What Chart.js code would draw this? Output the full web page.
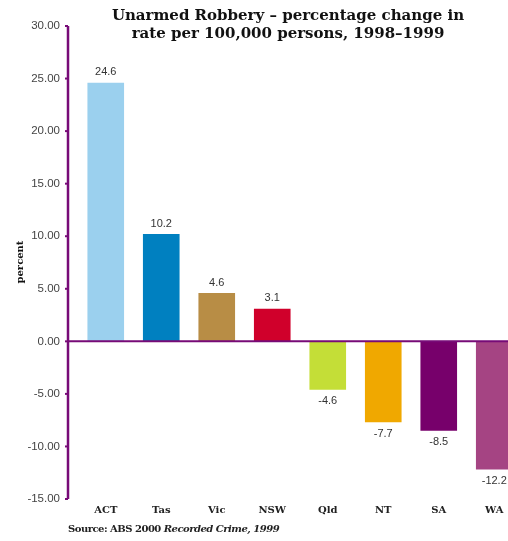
<!DOCTYPE html>
<html>
<head>
<meta charset="utf-8">
<script src="https://cdn.jsdelivr.net/npm/chart.js@4/dist/chart.umd.min.js"></script>
<style>
  html, body { margin: 0; padding: 0; background: #fff; overflow: hidden; }
  #wrap { position: relative; width: 508px; height: 541px; overflow: hidden; }
  #title {
    position: absolute; left: 68px; top: 6px; width: 440px;
    text-align: center; font: bold 15px "DejaVu Serif", serif; line-height: 18px; color: #111;
  }
  #source {
    position: absolute; left: 68px; top: 523px; letter-spacing: -0.5px;
    font: bold 10px "DejaVu Serif", serif; color: #222; white-space: nowrap;
  }
  canvas { position: absolute; left: 0; top: 0; }
</style>
</head>
<body>
<div id="wrap">
  <canvas id="robberyChart" width="522" height="541"></canvas>
  <div id="title">Unarmed Robbery – percentage change in<br>rate per 100,000 persons, 1998–1999</div>
  <div id="source">Source: ABS 2000 <i>Recorded Crime, 1999</i></div>
</div>
<script>
const states = ["ACT", "Tas", "Vic", "NSW", "Qld", "NT", "SA", "WA"];
const changes = [24.6, 10.2, 4.6, 3.1, -4.6, -7.7, -8.5, -12.2];
const barColors = ["#9bd0ee", "#0080c0", "#b88d45", "#d0002b", "#c4de37", "#f0a800", "#77006b", "#a54483"];
const axisTicks = [30, 25, 20, 15, 10, 5, 0, -5, -10, -15];

const AXIS = "#770b77";
const AXIS_X = 68;

// own y axis line, zero line, "percent" title and value labels
const decorations = {
    id: "decorations",
    afterDatasetsDraw(chart) {
        const ctx = chart.ctx;
        const y = chart.scales.y;
        const area = chart.chartArea;
        ctx.save();

        ctx.strokeStyle = AXIS;
        ctx.lineWidth = 2;
        const y0 = y.getPixelForValue(0);
        ctx.beginPath();
        ctx.moveTo(AXIS_X, y0);
        ctx.lineTo(area.right, y0);
        ctx.stroke();

        ctx.lineWidth = 2.5;
        ctx.beginPath();
        ctx.moveTo(AXIS_X, y.getPixelForValue(30));
        ctx.lineTo(AXIS_X, y.getPixelForValue(-15));
        ctx.stroke();
        ctx.lineWidth = 2;
        axisTicks.forEach(v => {
            const py = y.getPixelForValue(v);
            ctx.beginPath();
            ctx.moveTo(AXIS_X - 3, py);
            ctx.lineTo(AXIS_X, py);
            ctx.stroke();
        });

        ctx.fillStyle = "#333";
        ctx.font = "11px 'Liberation Sans', Arial, sans-serif";
        ctx.textAlign = "center";
        const meta = chart.getDatasetMeta(0);
        meta.data.forEach((bar, i) => {
            const v = changes[i];
            if (v >= 0) {
                ctx.textBaseline = "bottom";
                ctx.fillText(v.toFixed(1), bar.x, bar.y - 5);
            } else {
                ctx.textBaseline = "top";
                ctx.fillText(v.toFixed(1), bar.x, bar.y + 6);
            }
        });

        ctx.fillStyle = "#111";
        ctx.font = "bold 10px 'DejaVu Serif', serif";
        ctx.translate(20, 262);
        ctx.rotate(-Math.PI / 2);
        ctx.textAlign = "center";
        ctx.textBaseline = "middle";
        ctx.fillText("percent", 0, 0);
        ctx.restore();
    }
};

new Chart(document.getElementById("robberyChart"), {
    type: "bar",
    data: {
        labels: states,
        datasets: [{
            data: changes,
            backgroundColor: barColors,
            borderWidth: 0,
            categoryPercentage: 1,
            barPercentage: 0.66
        }]
    },
    options: {
        responsive: false,
        animation: false,
        layout: { padding: { top: 26, left: 0, right: 0, bottom: 0 } },
        plugins: {
            legend: { display: false },
            title: { display: false },
            tooltip: { enabled: false }
        },
        scales: {
            x: {
                grid: { display: false, drawTicks: false },
                border: { display: false },
                ticks: {
                    padding: 5,
                    color: "#222",
                    font: { family: "'DejaVu Serif', serif", size: 10, weight: "bold" }
                },
                afterFit(scale) { scale.height = 42; }
            },
            y: {
                min: -15,
                max: 30,
                grid: { display: false, drawTicks: false },
                border: { display: false },
                ticks: {
                    stepSize: 5,
                    padding: 18,
                    color: "#444",
                    font: { family: "'Liberation Sans', Arial, sans-serif", size: 11.5 },
                    callback: v => v.toFixed(2)
                },
                afterFit(scale) { scale.width = 78; }
            }
        }
    },
    plugins: [decorations]
});
</script>
</body>
</html>
